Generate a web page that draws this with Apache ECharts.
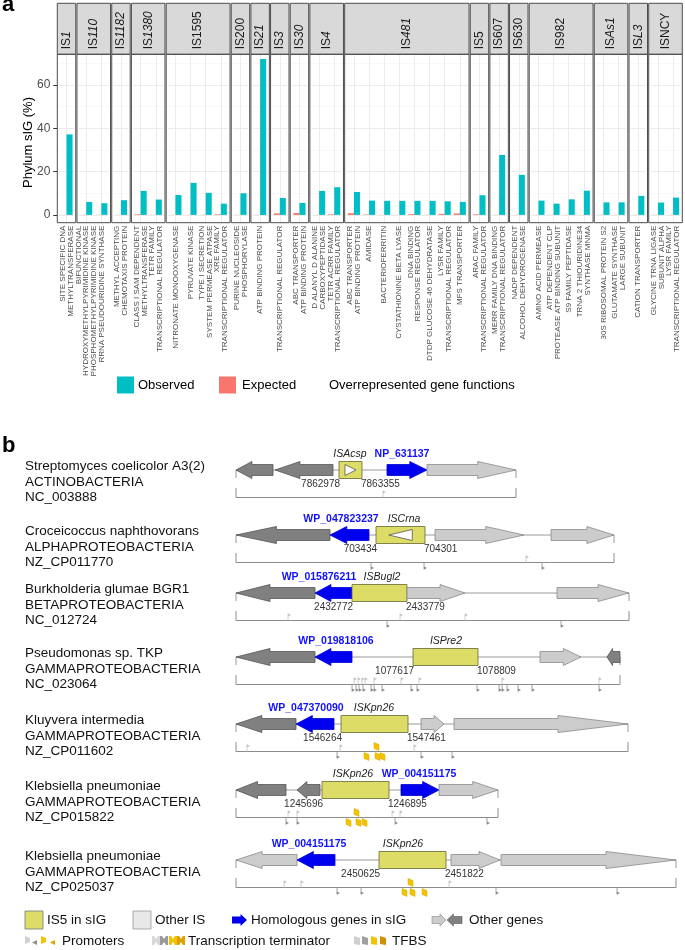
<!DOCTYPE html>
<html><head><meta charset="utf-8">
<script src="https://cdn.jsdelivr.net/npm/echarts@6/dist/echarts.min.js"></script>
<style>html,body{margin:0;padding:0;background:#fff}#c{width:685px;height:950px}</style>
</head><body><div id="c"></div>
<script>
const FF = '"Liberation Sans", Arial, Helvetica, sans-serif';

// ---------------- panel a data ----------------
const facetNames = ['IS1','IS110','IS1182','IS1380','IS1595','IS200','IS21','IS3','IS30','IS4','IS481','IS5','IS607','IS630','IS982','ISAs1','ISL3','ISNCY'];
const facetItalic = ['1','110','1182','1380','','','21','3','30','4','481','','','','','As1','L3',''];
const facetCounts = [1,2,1,2,4,1,1,1,1,2,8,1,1,1,4,2,1,2];
const functionLabels = [
 'SITE SPECIFIC DNA\nMETHYLTRANSFERASE',
 'BIFUNCTIONAL\nHYDROXYMETHYLPYRIMIDINE KINASE\nPHOSPHOMETHYLPYRIMIDINE KINASE','RRNA PSEUDOURIDINE SYNTHASE',
 'METHYL ACCEPTING\nCHEMOTAXIS PROTEIN',
 'CLASS I SAM DEPENDENT\nMETHYLTRANSFERASE','TETR FAMILY\nTRANSCRIPTIONAL REGULATOR',
 'NITRONATE MONOOXYGENASE','PYRUVATE KINASE','TYPE I SECRETION\nSYSTEM PERMEASE ATPASE','XRE FAMILY\nTRANSCRIPTIONAL REGULATOR',
 'PURINE NUCLEOSIDE\nPHOSPHORYLASE',
 'ATP BINDING PROTEIN',
 'TRANSCRIPTIONAL REGULATOR',
 'ABC TRANSPORTER\nATP BINDING PROTEIN',
 'D ALANYL D ALANINE\nCARBOXYPEPTIDASE','TETR ACRR FAMILY\nTRANSCRIPTIONAL REGULATOR',
 'ABC TRANSPORTER\nATP BINDING PROTEIN','AMIDASE','BACTERIOFERRITIN','CYSTATHIONINE BETA LYASE','DNA BINDING\nRESPONSE REGULATOR','DTDP GLUCOSE 46 DEHYDRATASE','LYSR FAMILY\nTRANSCRIPTIONAL REGULATOR','MFS TRANSPORTER',
 'ARAC FAMILY\nTRANSCRIPTIONAL REGULATOR',
 'MERR FAMILY DNA BINDING\nTRANSCRIPTIONAL REGULATOR',
 'NADP DEPENDENT\nALCOHOL DEHYDROGENASE',
 'AMINO ACID PERMEASE','ATP DEPENDENT CLP\nPROTEASE ATP BINDING SUBUNIT','S9 FAMILY PEPTIDASE','TRNA 2 THIOURIDINE34\nSYNTHASE MNMA',
 '30S RIBOSOMAL PROTEIN S2','GLUTAMATE SYNTHASE\nLARGE SUBUNIT',
 'CATION TRANSPORTER',
 'GLYCINE TRNA LIGASE\nSUBUNIT ALPHA','LYSR FAMILY\nTRANSCRIPTIONAL REGULATOR'
];
const observed = [37.2, 6.0,5.4, 6.8, 11.1,7.1, 9.2,14.8,10.2,5.2, 10.0, 72.0, 7.8, 5.5, 11.1,12.8,
  10.6,6.6,6.5,6.5,6.5,6.5,6.3,6.0, 9.1, 27.7, 18.5, 6.6,5.2,7.2,11.2, 5.8,5.8, 8.8, 5.7,8.0];
const expected = [0.05, 0.05,0.05, 0.05, 0.3,0.05, 0.05,0.05,0.05,0.3, 0.05, 0.05, 0.7, 0.9, 0.05,0.3,
  0.8,0.2,0.05,0.05,0.4,0.05,0.5,0.7, 0.3, 0.05, 0.05, 0.05,0.05,0.05,0.05, 0.05,0.05, 0.05, 0.05,0.05];
const yTicks = [0, 20, 40, 60];
const yMinor = [10, 30, 50, 70];

// ---------------- panel b data ----------------
const species = ['Streptomyces coelicolor A3(2)','Croceicoccus naphthovorans','Burkholderia glumae BGR1','Pseudomonas sp. TKP','Kluyvera intermedia','Klebsiella pneumoniae','Klebsiella pneumoniae'];
const phyla = ['ACTINOBACTERIA','ALPHAPROTEOBACTERIA','BETAPROTEOBACTERIA','GAMMAPROTEOBACTERIA','GAMMAPROTEOBACTERIA','GAMMAPROTEOBACTERIA','GAMMAPROTEOBACTERIA'];
const accessions = ['NC_003888','NZ_CP011770','NC_012724','NC_023064','NZ_CP011602','NZ_CP015822','NZ_CP025037'];
// genes: [start, end, strand, kind]  kind: d=other(dark) l=other(light) h=homologous i=IS5
const genes = [
 [[0,37,-1,'d'],[39,97,-1,'d'],[103,126,1,'i'],[151,191,1,'h'],[191,280,1,'l']],
 [[0,94,-1,'d'],[94,133,-1,'h'],[140,189,-1,'i'],[199,288,1,'l'],[315,378,1,'l']],
 [[0,79,-1,'d'],[79,116,-1,'h'],[116,171,0,'i'],[171,229,1,'l'],[321,393,1,'l']],
 [[0,79,-1,'d'],[79,116,-1,'h'],[177,242,0,'i'],[304,345,1,'l'],[371,384,-1,'d']],
 [[0,60,-1,'d'],[60,98,-1,'h'],[105,172,0,'i'],[185,208,1,'l'],[218,392,1,'l']],
 [[0,50,-1,'d'],[61,84,-1,'d'],[86,153,0,'i'],[165,203,1,'h'],[203,262,1,'l']],
 [[0,61,-1,'l'],[61,99,-1,'h'],[143,210,0,'i'],[215,264,1,'l'],[265,440,1,'l']]
];
const regionEnds = [280, 378, 393, 384, 392, 262, 440];
const isNames = ['ISAcsp','ISCrna','ISBugl2','ISPre2','ISKpn26','ISKpn26','ISKpn26'];
const isLabelPos = [114, 168, 146, 210, 138, 117, 167];
const homNames = ['NP_631137','WP_047823237','WP_015876211','WP_019818106','WP_047370090','WP_004151175','WP_004151175'];
const homLabelPos = [166, 105, 83, 100, 70, 183, 73];
const isCoords = [['7862978','7863355'],['703434','704301'],['2432772','2433779'],['1077617','1078809'],['1546264','1547461'],['1245696','1246895'],['2450625','2451822']];
// regulatory marks: [position, side (1 above / -1 below), kind (0 light,1 dark,2 TFBS)]
const marks = [
 [[147,1,0]],
 [[290,1,0],[135,-1,1],[188,-1,1],[306,-1,1]],
 [[52,1,0],[164,1,0],[229,1,0],[151,-1,1],[325,-1,1]],
 [[118,1,0],[122,1,0],[126,1,0],[129,1,0],[138,1,0],[165,1,0],[183,1,0],[266,1,0],[363,1,0],
  [116,-1,1],[120,-1,1],[123,-1,1],[127,-1,1],[135,-1,1],[138,-1,1],[146,-1,1],[175,-1,1],[181,-1,1],
  [241,-1,1],[263,-1,1],[266,-1,1],[271,-1,1],[282,-1,1],[296,-1,1],[363,-1,1]],
 [[11,1,0],[104,1,0],[178,1,0],[101,-1,1],[185,-1,1],[216,-1,1],[128,-1,2],[138,1,2],[139,-1,2],[144,-1,2]],
 [[52,1,0],[61,1,0],[156,1,0],[164,1,0],[50,-1,1],[61,-1,1],[159,-1,1],[251,-1,1],[110,-1,2],[118,1,2],[120,-1,2],[126,-1,2]],
 [[48,1,0],[65,1,0],[213,1,0],[101,-1,1],[125,-1,1],[260,-1,1],[381,-1,1],[166,-1,2],[172,1,2],[174,-1,2],[186,-1,2]]
];

// ---------------- styles / layout ----------------
const COL_OBS = '#00BFC4', COL_EXP = '#F8766D';
const geneFill = {d:'#808080', l:'#cccccc', h:'#0000f0', i:'#dcdc66'};
const geneStroke = {d:'#555555', l:'#8a8a8a', h:'#0000d0', i:'#666633'};
const PA = {left:57.3, right:682.3, stripTop:3.3, top:54.3, bottom:222.7, gap:1.2, pad:0.11};
const trackCenters = [470, 535, 593, 657, 724, 790, 860];
const TRACK_LEFT = 236;

const grids = [], xAxes = [], yAxes = [], series = [], graphics = [];

// ---------------- panel a build ----------------
const unitsTotal = facetCounts.reduce((s, n) => s + n + 2 * PA.pad, 0);
const u = (PA.right - PA.left - PA.gap * (facetCounts.length - 1)) / unitsTotal;
let xCur = PA.left, cStart = 0;
facetNames.forEach((name, i) => {
  const n = facetCounts[i];
  const w = u * (n + 2 * PA.pad);
  const cats = functionLabels.slice(cStart, cStart + n);
  grids.push({left: xCur + PA.pad * u, top: PA.top, width: n * u, height: PA.bottom - PA.top});
  xAxes.push({type:'category', gridIndex:i, data:cats,
    axisLine:{show:false}, axisTick:{show:false}, splitLine:{show:false},
    axisLabel:{interval:0, rotate:90, fontSize:8, lineHeight:7.7, color:'#4d4d4d', margin:3, fontFamily:FF}});
  yAxes.push({type:'value', gridIndex:i, min:-3.6, max:74.2, offset: i === 0 ? PA.pad * u : 0,
    axisLine:{show:false},
    axisTick:{show:i === 0, customValues:yTicks, length:4, lineStyle:{color:'#333'}},
    axisLabel:{show:i === 0, customValues:yTicks, fontSize:12, color:'#4d4d4d', margin:7, fontFamily:FF,
      formatter: v => (yTicks.indexOf(v) >= 0 ? String(v) : '')},
    splitLine:{show:true, lineStyle:{color:'#ebebeb', width:1}}});
  // background grid lines (category centres, minor y) kept beneath the bars
  series.push({type:'line', name:'grid', xAxisIndex:i, yAxisIndex:i, z:1, silent:true,
    data:cats.map(() => null), showSymbol:false, lineStyle:{opacity:0},
    markLine:{z:1, silent:true, symbol:'none', animation:false, label:{show:false},
      lineStyle:{color:'#ebebeb', width:1, type:'solid'},
      data: cats.map((c, k) => ({xAxis:k})).concat(yMinor.map(v => ({yAxis:v, lineStyle:{color:'#f3f3f3', width:0.6, type:'solid'}})))}});
  series.push({type:'bar', name:'Expected', xAxisIndex:i, yAxisIndex:i, z:3, data:expected.slice(cStart, cStart + n),
    barWidth:'40%', barGap:'0%', itemStyle:{color:COL_EXP}, silent:true});
  series.push({type:'bar', name:'Observed', xAxisIndex:i, yAxisIndex:i, z:3, data:observed.slice(cStart, cStart + n),
    barWidth:'40%', barGap:'0%', itemStyle:{color:COL_OBS}, silent:true});
  // strip + border
  graphics.push({type:'rect', z:50, shape:{x:xCur, y:PA.stripTop, width:w, height:PA.top - PA.stripTop},
    style:{fill:'#d9d9d9', stroke:'#4d4d4d', lineWidth:1}});
  graphics.push({type:'rect', z:50, shape:{x:xCur, y:PA.top, width:w, height:PA.bottom - PA.top},
    style:{fill:'none', stroke:'#4d4d4d', lineWidth:1}});
  const it = facetItalic[i];
  const plain = it ? name.slice(0, name.length - it.length) : name;
  graphics.push({type:'text', z:51, x:xCur + w / 2, y:PA.top - 5, rotation:Math.PI / 2,
    style:{text: it ? '{n|' + plain + '}{i|' + it + '}' : '{n|' + plain + '}',
      align:'left', verticalAlign:'middle', textAlign:'left', textVerticalAlign:'middle',
      rich:{n:{font:'12px ' + FF, fill:'#1a1a1a'}, i:{font:'italic 12px ' + FF, fill:'#1a1a1a'}}}});
  xCur += w + PA.gap; cStart += n;
});

// panel a decorations
function txt(x, y, text, font, fill, align, vAlign, extra) {
  return Object.assign({type:'text', z:60, x:x, y:y,
    style:{text:text, font:font, fill:fill || '#000', align:align || 'left', verticalAlign:vAlign || 'middle',
      textAlign:align || 'left', textVerticalAlign:vAlign || 'middle'}}, extra || {});
}
graphics.push(txt(2, 16, 'a', 'bold 22px ' + FF, '#000', 'left', 'bottom'));
graphics.push(txt(28, 142.5, 'Phylum sIG (%)', '13px ' + FF, '#000', 'center', 'middle', {rotation:Math.PI / 2}));
graphics.push({type:'rect', z:60, shape:{x:117, y:376.5, width:17, height:17}, style:{fill:COL_OBS}});
graphics.push(txt(138, 385, 'Observed', '13px ' + FF, '#000'));
graphics.push({type:'rect', z:60, shape:{x:219, y:376.5, width:17, height:17}, style:{fill:COL_EXP}});
graphics.push(txt(242, 385, 'Expected', '13px ' + FF, '#000'));
graphics.push(txt(329, 385, 'Overrepresented gene functions', '13px ' + FF, '#000'));

// ---------------- panel b build ----------------
function arrowPoints(X0, X1, cy, dir, bh, hh) {
  const len = Math.abs(X1 - X0);
  const L = Math.min(len * 0.43, 70);
  if (dir >= 0) {
    return [[X0, cy - bh], [X1 - L, cy - bh], [X1 - L, cy - hh], [X1, cy], [X1 - L, cy + hh], [X1 - L, cy + bh], [X0, cy + bh]];
  }
  return [[X1, cy - bh], [X0 + L, cy - bh], [X0 + L, cy - hh], [X0, cy], [X0 + L, cy + hh], [X0 + L, cy + bh], [X1, cy + bh]];
}

genes.forEach((gl, k) => {
  const gi = facetNames.length + k;
  const c = trackCenters[k];
  grids.push({left:TRACK_LEFT, width:449, top:c - 40, height:80});
  xAxes.push({type:'value', gridIndex:gi, min:0, max:449, show:false});
  yAxes.push({type:'value', gridIndex:gi, min:-40, max:40, inverse:true, show:false});

  // backbone + bracket
  series.push({type:'custom', xAxisIndex:gi, yAxisIndex:gi, clip:false, silent:true, z:1,
    data:[[0, regionEnds[k]]],
    renderItem:(p, api) => {
      const a = api.coord([api.value(0), 0]), b = api.coord([api.value(1), 0]);
      const cy = a[1];
      const ls = {stroke:'#9a9a9a', lineWidth:1, fill:null};
      return {type:'group', children:[
        {type:'line', shape:{x1:a[0], y1:cy, x2:b[0], y2:cy}, style:ls},
        {type:'line', shape:{x1:a[0], y1:cy, x2:a[0], y2:cy + 8}, style:ls},
        {type:'line', shape:{x1:b[0], y1:cy, x2:b[0], y2:cy + 8}, style:ls},
        {type:'polyline', shape:{points:[[a[0], cy + 18], [a[0], cy + 27.5], [b[0], cy + 27.5], [b[0], cy + 18]]},
          style:{stroke:'#8c8c8c', lineWidth:1, fill:null}}
      ]};
    }});

  // genes
  series.push({type:'custom', xAxisIndex:gi, yAxisIndex:gi, clip:false, silent:true, z:3,
    data: gl.map(g => [g[0], g[1]]),
    renderItem:(p, api) => {
      const g = gl[p.dataIndex];
      const a = api.coord([api.value(0), 0]), b = api.coord([api.value(1), 0]);
      const cy = a[1];
      if (g[3] === 'i') {
        const ch = [{type:'rect', shape:{x:a[0], y:cy - 8.5, width:b[0] - a[0], height:17},
          style:{fill:geneFill.i, stroke:geneStroke.i, lineWidth:0.8}}];
        if (g[2] !== 0) {
          const mid = (a[0] + b[0]) / 2, tw = (b[0] - a[0]) * 0.48;
          const pts = g[2] > 0 ? [[mid - tw / 2, cy - 5.5], [mid + tw / 2, cy], [mid - tw / 2, cy + 5.5]]
                               : [[mid + tw / 2, cy - 5.5], [mid - tw / 2, cy], [mid + tw / 2, cy + 5.5]];
          ch.push({type:'polygon', shape:{points:pts}, style:{fill:'#ffffff', stroke:'#555', lineWidth:0.8}});
        }
        return {type:'group', children:ch};
      }
      return {type:'polygon', shape:{points:arrowPoints(a[0], b[0], cy, g[2], 5.5, 8.5)},
        style:{fill:geneFill[g[3]], stroke:geneStroke[g[3]], lineWidth:0.8}};
    }});

  // names above
  series.push({type:'custom', xAxisIndex:gi, yAxisIndex:gi, clip:false, silent:true, z:4,
    data:[[isLabelPos[k], 0], [homLabelPos[k], 0]],
    renderItem:(p, api) => {
      const a = api.coord([api.value(0), 0]);
      const isIS = p.dataIndex === 0;
      return {type:'text', x:a[0], y:a[1] - 15.5, style:{
        text: isIS ? isNames[k] : homNames[k],
        font: isIS ? 'italic 10.5px ' + FF : 'bold 10.5px ' + FF,
        fill: isIS ? '#222' : '#1010ff',
        align:'center', verticalAlign:'middle', textAlign:'center', textVerticalAlign:'middle'}};
    }});

  // IS coordinates below
  const isGene = gl.find(g => g[3] === 'i');
  series.push({type:'custom', xAxisIndex:gi, yAxisIndex:gi, clip:false, silent:true, z:4,
    data:[[isGene[0], 0], [isGene[1], 0]],
    renderItem:(p, api) => {
      const a = api.coord([api.value(0), 0]);
      const first = p.dataIndex === 0;
      return {type:'text', x:a[0] + (first ? 1 : -1), y:a[1] + 14.5, style:{
        text:isCoords[k][p.dataIndex], font:'10px ' + FF, fill:'#333',
        align: first ? 'right' : 'left', verticalAlign:'middle',
        textAlign: first ? 'right' : 'left', textVerticalAlign:'middle'}};
    }});

  // regulatory marks
  series.push({type:'custom', xAxisIndex:gi, yAxisIndex:gi, clip:false, silent:true, z:2,
    data: marks[k].map(m => [m[0], m[1]]),
    renderItem:(p, api) => {
      const m = marks[k][p.dataIndex];
      const a = api.coord([api.value(0), 0]);
      const x = a[0], by = a[1] + 27.5, s = m[1];
      if (m[2] === 2) {
        const y0 = s > 0 ? by - 9 : by + 1;
        return {type:'polygon', shape:{points:[[x, y0], [x + 5, y0 + 2], [x + 5, y0 + 8], [x, y0 + 6]]},
          style:{fill:'#f2c300', stroke:'#e0a800', lineWidth:0.5}};
      }
      const col = m[2] === 0 ? '#c4c4c4' : '#8a8a8a';
      const yTop = s > 0 ? by - 7 : by + 7;
      return {type:'group', children:[
        {type:'line', shape:{x1:x, y1:by, x2:x, y2:yTop}, style:{stroke:col, lineWidth:0.8}},
        {type:'polygon', shape:{points:[[x, yTop], [x + 3, yTop + (s > 0 ? 1.5 : -1.5)], [x, yTop + (s > 0 ? 3 : -3)]]},
          style:{fill:col}}
      ]};
    }});

  // species text
  graphics.push({type:'text', z:60, x:25, y:c - 11, style:{
    text:species[k] + '\n' + phyla[k] + '\n' + accessions[k], font:'13.5px ' + FF, fill:'#111',
    lineHeight:15.5, align:'left', verticalAlign:'top', textAlign:'left', textVerticalAlign:'top'}});
});

graphics.push(txt(2, 457, 'b', 'bold 22px ' + FF, '#000', 'left', 'bottom'));

// legend b
const LY1 = 920, LY2 = 941;
graphics.push({type:'rect', z:60, shape:{x:25, y:LY1 - 9, width:18, height:18}, style:{fill:geneFill.i, stroke:'#777', lineWidth:0.8}});
graphics.push(txt(47, LY1, 'IS5 in sIG', '13.5px ' + FF, '#111'));
graphics.push({type:'rect', z:60, shape:{x:133, y:LY1 - 9, width:18, height:18}, style:{fill:'#e8e8e8', stroke:'#999', lineWidth:0.8}});
graphics.push(txt(155, LY1, 'Other IS', '13.5px ' + FF, '#111'));
graphics.push({type:'polygon', z:60, shape:{points:arrowPoints(232, 247, LY1, 1, 3.5, 6)}, style:{fill:geneFill.h}});
graphics.push(txt(251, LY1, 'Homologous genes in sIG', '13.5px ' + FF, '#111'));
graphics.push({type:'polygon', z:60, shape:{points:arrowPoints(432, 446, LY1, 1, 3.5, 6)}, style:{fill:'#cccccc', stroke:'#8a8a8a', lineWidth:0.6}});
graphics.push({type:'polygon', z:60, shape:{points:arrowPoints(447, 462, LY1, -1, 3.5, 6)}, style:{fill:'#808080', stroke:'#555', lineWidth:0.6}});
graphics.push(txt(469, LY1, 'Other genes', '13.5px ' + FF, '#111'));

function flagIcon(x, y, col, dir) {
  const pts = dir > 0 ? [[x, y - 5], [x + 5, y - 3], [x + 5, y + 1], [x, y + 3]] : [[x + 5, y - 1], [x, y + 1.5], [x + 5, y + 4]];
  return {type:'polygon', z:60, shape:{points:pts}, style:{fill:col}};
}
[[25, '#d0d0d0', 1], [32, '#909090', -1], [41, '#f2c300', 1], [50, '#e0a000', -1]].forEach(f => graphics.push(flagIcon(f[0], LY2, f[1], f[2])));
graphics.push(txt(62, LY2, 'Promoters', '13.5px ' + FF, '#111'));
function termIcon(x, y, col) {
  return {type:'polygon', z:60, shape:{points:[[x, y - 5], [x + 2, y - 5], [x + 4, y - 2], [x + 6, y - 5], [x + 8, y - 5], [x + 8, y + 4], [x + 6, y + 4], [x + 4, y + 1], [x + 2, y + 4], [x, y + 4]]}, style:{fill:col}};
}
[[152, '#d8d8d8'], [160, '#9a9a9a'], [169, '#f2c300'], [177, '#e0a000']].forEach(f => graphics.push(termIcon(f[0], LY2, f[1])));
graphics.push(txt(188, LY2, 'Transcription terminator', '13.5px ' + FF, '#111'));
[[354, '#d0d0d0'], [362, '#a0a0a0'], [371, '#f2c300'], [380, '#d09000']].forEach(f =>
  graphics.push({type:'polygon', z:60, shape:{points:[[f[0], LY2 - 5], [f[0] + 6, LY2 - 3], [f[0] + 6, LY2 + 4], [f[0], LY2 + 3]]}, style:{fill:f[1]}}));
graphics.push(txt(392, LY2, 'TFBS', '13.5px ' + FF, '#111'));

const chart = echarts.init(document.getElementById('c'), null, {renderer:'canvas'});
chart.setOption({animation:false, backgroundColor:'#ffffff', grid:grids, xAxis:xAxes, yAxis:yAxes, series:series,
  graphic:{elements:graphics}});
</script></body></html>
